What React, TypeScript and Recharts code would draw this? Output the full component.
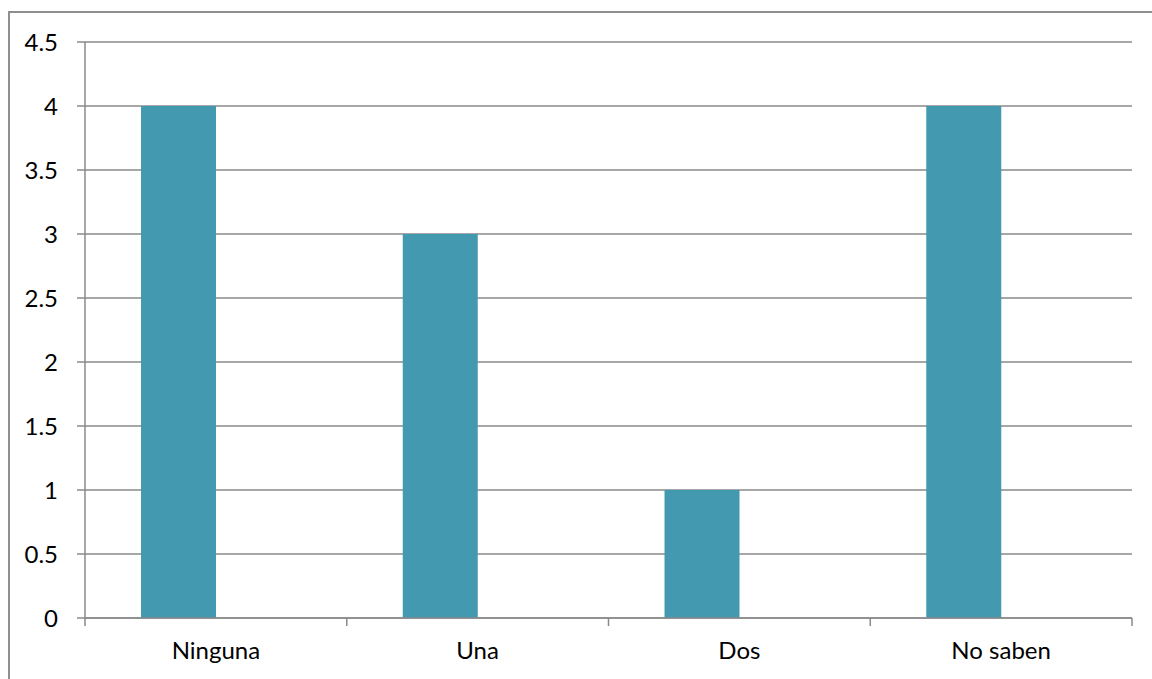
import { BarChart, Bar, XAxis, YAxis, CartesianGrid } from 'recharts';

const categorias = ['Ninguna', 'Una', 'Dos', 'No saben'];
const valores = [4, 3, 1, 4];
// segunda serie sin datos: reserva el hueco a la derecha de cada barra
const serieVacia: (number | null)[] = [null, null, null, null];
const ticksY = [0, 0.5, 1, 1.5, 2, 2.5, 3, 3.5, 4, 4.5];

const data = categorias.map((c, i) => ({ categoria: c, valor: valores[i], vacia: serieVacia[i] }));

const W = 1152;
const H = 679;
const MARGIN = { top: 42, right: 20, left: 0, bottom: 0 };
const Y_AXIS_W = 85;
const X_AXIS_H = 61;
const GRIS = '#8a8a8a';
const COLOR_BARRA = '#4399b0';
const FUENTE = 'Lato, "Open Sans", sans-serif';

const bandaX = (W - MARGIN.left - MARGIN.right - Y_AXIS_W) / categorias.length;

// etiqueta centrada y marcas de graduación en los límites de cada categoría
const TickX = (props: any) => {
  const { x, y, payload, index } = props;
  const izq = x - bandaX / 2;
  const der = x + bandaX / 2;
  return (
    <g>
      <line x1={izq} y1={y} x2={izq} y2={y + 8} stroke={GRIS} strokeWidth={1.5} />
      {index === categorias.length - 1 && (
        <line x1={der} y1={y} x2={der} y2={y + 8} stroke={GRIS} strokeWidth={1.5} />
      )}
      <text x={x} y={y + 41} textAnchor="middle" fill="#000" fontSize={24} fontFamily={FUENTE}>
        {payload.value}
      </text>
    </g>
  );
};

const App = () => (
  <div style={{ position: 'absolute', left: 0, top: 0, width: W, height: H, overflow: 'hidden', background: '#fff' }}>
    <div
      style={{
        position: 'absolute',
        left: 8,
        top: 11,
        width: W + 20,
        height: H + 20,
        borderLeft: '2px solid #8f8f8f',
        borderTop: '2px solid #8f8f8f',
      }}
    />
    <div style={{ position: 'absolute', left: 0, top: 0 }}>
      <BarChart width={W} height={H} data={data} margin={MARGIN} barCategoryGap="21.4%" barGap={0}>
        <CartesianGrid horizontal vertical={false} stroke={GRIS} strokeWidth={1.5} />
        <XAxis
          dataKey="categoria"
          height={X_AXIS_H}
          axisLine={{ stroke: GRIS, strokeWidth: 1.5 }}
          tickLine={false}
          tickSize={0}
          tickMargin={0}
          interval={0}
          tick={<TickX />}
        />
        <YAxis
          width={Y_AXIS_W}
          domain={[0, 4.5]}
          ticks={ticksY}
          interval={0}
          axisLine={{ stroke: GRIS, strokeWidth: 1.5 }}
          tickLine={{ stroke: GRIS, strokeWidth: 1.5 }}
          tickSize={8}
          tickMargin={19}
          tick={{ fill: '#000', fontSize: 24, fontFamily: FUENTE }}
        />
        <Bar dataKey="valor" fill={COLOR_BARRA} isAnimationActive={false} />
        <Bar dataKey="vacia" fill={COLOR_BARRA} isAnimationActive={false} />
      </BarChart>
    </div>
  </div>
);

export default App;
